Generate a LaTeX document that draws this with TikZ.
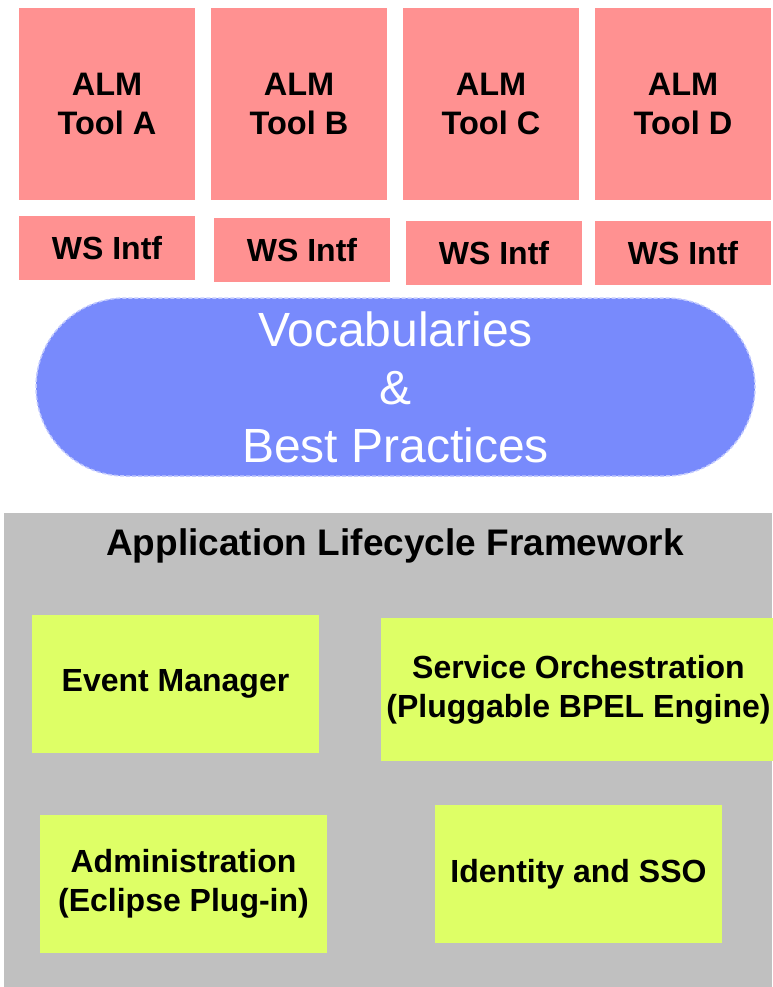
\documentclass[tikz,border=0pt]{standalone}
\usepackage{fontspec}
\setmainfont{Liberation Sans}
\usetikzlibrary{shapes.misc}

\definecolor{toolred}{RGB}{255,145,145}
\definecolor{vocabblue}{RGB}{120,138,252}
\definecolor{partgreen}{RGB}{222,255,102}
\definecolor{framegray}{RGB}{192,192,192}

\begin{document}
\begin{tikzpicture}[x=1pt,y=-1pt,
    every node/.style={inner sep=0pt,align=center},
    tool/.style={fill=toolred,minimum width=176,minimum height=192,font=\bfseries\fontsize{32.5}{39}\selectfont},
    wsintf/.style={fill=toolred,minimum width=176,minimum height=64,font=\bfseries\fontsize{32}{39}\selectfont},
    part/.style={fill=partgreen,minimum width=287,minimum height=138,font=\bfseries\fontsize{32}{39}\selectfont}]

    \useasboundingbox (0,0) rectangle (772,987);

    % Tools
    \node[tool] (toolA) at (107,104) {ALM\\Tool A};
    \node[tool] (toolB) at (299,104) {ALM\\Tool B};
    \node[tool] (toolC) at (491,104) {ALM\\Tool C};
    \node[tool] (toolD) at (683,104) {ALM\\Tool D};

    \node[wsintf] (wsA) at (107,248) {WS Intf};
    \node[wsintf] (wsB) at (302,250) {WS Intf};
    \node[wsintf] (wsC) at (494,253) {WS Intf};
    \node[wsintf] (wsD) at (683,253) {WS Intf};

    % Vocabularies
    \node[rounded rectangle,fill=vocabblue,draw=vocabblue!45,dash pattern=on 4 off 2,line width=1.5,
          minimum width=719,minimum height=178,text=white,
          font=\fontsize{48}{58}\selectfont] (vocab) at (395.5,387) {Vocabularies\\\&\\Best Practices};

    % Framework
    \node[fill=framegray,minimum width=768,minimum height=474] (alf) at (388,750) {};
    \node[font=\bfseries\fontsize{37}{40}\selectfont] (alftitle) at (395,546) {Application Lifecycle Framework};

    \node[part] (event) at (175.5,684) {Event Manager};
    \node[part,minimum width=395,minimum height=143] (orch) at (578.5,689.5) {Service Orchestration\\(Pluggable BPEL Engine)};
    \node[part] (admin) at (183.5,884) {Administration\\(Eclipse Plug-in)};
    \node[part] (sso) at (578.5,874) {Identity and SSO};

\end{tikzpicture}
\end{document}
